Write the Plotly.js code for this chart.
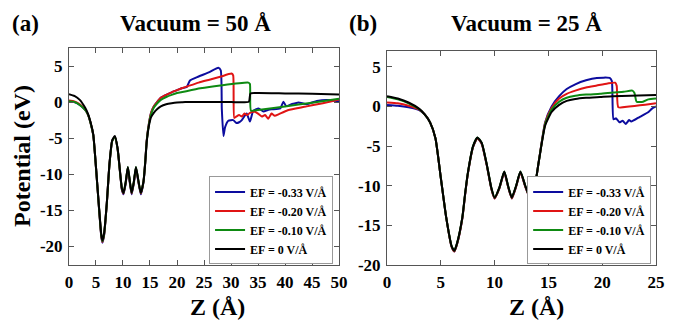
<!DOCTYPE html>
<html>
<head>
<meta charset="utf-8">
<script src="https://cdn.plot.ly/plotly-3.0.1.min.js"></script>
<style>html,body{margin:0;padding:0;background:#fff;}#chart{width:679px;height:324px;}</style>
</head>
<body>
<div id="chart"></div>
<script>
// ---------- Panel (a): Vacuum = 50 Å ----------
var xA_well = [0,1,2,3,3.5,4,4.5,5,5.5,6,6.2,6.5,7,7.5,8,8.5,9,9.5,9.8,10.1,10.5,10.9,11.25,11.6,12,12.4,12.85,13.3,13.8,14.1,14.4,14.8,15.2,15.7,16.3,17,18,19,20,21];

var xA_blue_tail = [21.8,22.4,24,26,27.65,28.1,28.3,28.6,28.9,29.5,30.4,31,31.5,32,32.9,33.5,34.1,35.1,36,36.8,37.5,39.1,39.7,40.2,41.2,42.5,44,45.9,47.7,50];
var yA_blue = [0.1,0,-0.4,-1.1,-1.7,-2.9,-4.6,-9.1,-14.1,-18.8,-19.5,-18.5,-14.1,-8.6,-5.4,-4.8,-6.5,-10.1,-12.2,-12.8,-11.3,-9.2,-11.1,-12.8,-11.3,-9.2,-11.1,-12.8,-11.1,-8.5,-5.3,-3.0,-1.5,-0.6,0.0,0.6,1.0,1.35,1.65,1.95,
  2.1,3.0,3.55,4.15,4.75,4.4,-1,-4.7,-3.5,-2.6,-2.5,-2.9,-2.8,-2.5,-1.6,-2.7,-1.25,-0.9,-1.3,-1.1,-1.0,-0.9,0.05,-0.55,-0.3,-0.05,-0.3,0.15,0.3,0.1];

var xA_red_tail = [22,24,26,28,30.1,30.4,30.6,31,31.5,32,32.5,33,33.5,34.4,35,35.7,36.3,36.9,37.5,38.1,38.8,40.3,42,44,46,48,50];
var yA_red = [0.2,0.1,-0.3,-1.05,-1.7,-2.9,-4.6,-9.1,-14.1,-18.7,-19.4,-18.4,-14.1,-8.6,-5.4,-4.8,-6.5,-10.1,-12.1,-12.7,-11.2,-9.1,-11.0,-12.7,-11.2,-9.1,-11.0,-12.7,-11.0,-8.5,-5.3,-3.0,-1.5,-0.6,0.0,0.6,1.0,1.35,1.65,1.95,
  2.2,2.7,3.1,3.5,3.95,3.7,-2.2,-2.0,-1.8,-2.0,-1.6,-1.8,-1.5,-1.35,-1.6,-2.0,-1.8,-2.3,-1.6,-1.9,-1.7,-1.2,-0.9,-0.6,-0.3,0.0,0.35];

var xA_green_tail = [24.3,28,33.2,33.5,33.7,35,40,45,50];
var yA_green = [0.1,0,-0.4,-1.1,-1.7,-2.9,-4.6,-9.1,-14.1,-18.6,-19.3,-18.3,-14.1,-8.6,-5.4,-4.8,-6.5,-10.1,-12,-12.6,-11.1,-9.0,-10.9,-12.6,-11.1,-9.0,-10.9,-12.6,-11.0,-8.5,-5.4,-3.1,-1.7,-0.8,-0.2,0.3,0.7,1.0,1.25,1.4,
  1.9,2.3,2.7,2.5,-1.2,-1.1,-0.6,-0.1,0.45];

var xA_black_tail = [22,25,30,33.3,33.6,35,40,45,50];
var yA_black = [1.1,0.85,0.3,-0.8,-1.6,-2.8,-4.5,-9,-14,-18.5,-19.2,-18.2,-14,-8.5,-5.3,-4.7,-6.4,-10,-12,-12.6,-11.1,-9.0,-10.9,-12.6,-11.1,-9.0,-10.9,-12.6,-11,-8.6,-5.5,-3.3,-2.1,-1.5,-1.0,-0.6,-0.3,-0.15,-0.05,-0.02,
  0,0,0,0.05,1.2,1.25,1.2,1.15,1.05];

// ---------- Panel (b): Vacuum = 25 Å ----------
var xB_well = [0,1,2,3,3.5,4,4.5,5,5.5,6,6.25,6.5,7,7.25,7.5,8,8.4,8.8,9.3,9.7,10,10.45,10.9,11.25,11.6,12,12.4,12.85,13.3,13.7,14.1,14.7,15.3,16,16.7,17.5,18.5];

var xB_blue_tail = [19.5,20.7,20.9,21.05,21.3,21.6,21.9,22.2,22.5,22.7,23.5,24.3,24.6,25];
var yB_blue = [0.2,0.1,-0.1,-0.45,-1.0,-2.0,-4.0,-9,-14,-17.7,-18.3,-17.4,-14.1,-11.2,-8.6,-5.1,-4.0,-4.7,-7.6,-10.4,-11.6,-10.3,-8.3,-10.1,-11.6,-10.1,-8.3,-10.1,-11.6,-10.4,-7,-2.0,0.0,1.3,2.2,2.8,3.3,
  3.6,3.6,3.2,-1.6,-1.5,-2.0,-1.8,-2.2,-1.7,-1.9,-1.3,-0.7,-0.3,0.0];

var xB_red_tail = [19.5,20.5,21.2,21.35,21.5,22.5,23.5,24.5,25];
var yB_red = [0.5,0.4,0.1,-0.4,-1.0,-2.0,-4.0,-9,-14,-17.7,-18.3,-17.4,-14.1,-11.2,-8.6,-5.1,-4.0,-4.7,-7.6,-10.4,-11.6,-10.3,-8.3,-10.1,-11.6,-10.1,-8.3,-10.1,-11.6,-10.4,-7,-2.1,-0.2,1.0,1.6,2.0,2.4,
  2.65,2.9,3.0,2.6,-0.1,0.0,0.15,0.3,0.4];

var xB_green_tail = [19.8,21,22,22.8,23.0,23.2,23.8,24.3,25];
var yB_green = [1.2,0.9,0.4,-0.35,-1.0,-2.0,-4.0,-9,-14,-17.6,-18.2,-17.3,-14,-11.1,-8.5,-5,-3.9,-4.6,-7.5,-10.3,-11.5,-10.2,-8.2,-10,-11.5,-10,-8.2,-10,-11.5,-10.3,-7,-2.2,-0.4,0.6,1.1,1.35,1.5,
  1.6,1.75,1.85,2.0,1.7,0.6,0.6,0.9,1.0];

var xB_black_tail = [19.8,21,25];
var yB_black = [1.3,1.0,0.5,-0.3,-1.0,-2.0,-4.0,-9,-14,-17.6,-18.2,-17.3,-14,-11.1,-8.5,-5,-3.9,-4.6,-7.5,-10.3,-11.5,-10.2,-8.2,-10,-11.5,-10,-8.2,-10,-11.5,-10.3,-7,-2.4,-0.7,0.2,0.7,0.95,1.1,
  1.2,1.3,1.45];

var seriesNames = ['EF = -0.33 V/Å','EF = -0.20 V/Å','EF = -0.10 V/Å','EF = 0 V/Å'];
var seriesColors = ['#0c0c9e','#e01414','#0e8a12','#000000'];
var xTicksA = [0,5,10,15,20,25,30,35,40,45,50];
var xTicksB = [0,5,10,15,20,25];
var yTicks = [5,0,-5,-10,-15,-20];
var yTickText = ['5','0','-5','-10','-15','-20'];

var FONT = 'Liberation Serif, Times New Roman, serif';

var dataA = [
  [xA_well.concat(xA_blue_tail), yA_blue],
  [xA_well.concat(xA_red_tail), yA_red],
  [xA_well.concat(xA_green_tail), yA_green],
  [xA_well.concat(xA_black_tail), yA_black]
];
var dataB = [
  [xB_well.concat(xB_blue_tail), yB_blue],
  [xB_well.concat(xB_red_tail), yB_red],
  [xB_well.concat(xB_green_tail), yB_green],
  [xB_well.concat(xB_black_tail), yB_black]
];

var traces = [];
dataA.forEach(function(d, i){
  traces.push({x:d[0], y:d[1], type:'scatter', mode:'lines', name:seriesNames[i],
    line:{color:seriesColors[i], width:2, shape:'spline', smoothing:0.5},
    xaxis:'x', yaxis:'y', legend:'legend'});
});
dataB.forEach(function(d, i){
  traces.push({x:d[0], y:d[1], type:'scatter', mode:'lines', name:seriesNames[i],
    line:{color:seriesColors[i], width:2, shape:'spline', smoothing:0.5},
    xaxis:'x2', yaxis:'y2', legend:'legend2'});
});

function tickFont(){ return {family:FONT, size:17, color:'#000', weight:'bold'}; }
function axis(extra){
  var a = {showline:true, linecolor:'#555', linewidth:1, mirror:'ticks', ticks:'inside', ticklen:5,
    tickcolor:'#555', showgrid:false, zeroline:false, tickfont:tickFont(), ticklabelstandoff:2};
  for (var k in extra) a[k] = extra[k];
  return a;
}
var legendStyle = function(xr){
  return {x:xr, xanchor:'right', y:0.184, yanchor:'bottom', bgcolor:'#fff', bordercolor:'#999', borderwidth:1,
    font:{family:FONT, size:12, color:'#000', weight:'bold'}, itemwidth:30, tracegroupgap:0};
};
function tf(size){ return {family:FONT, size:size, color:'#000', weight:'bold'}; }

var layout = {
  width:679, height:324, margin:{l:0,r:0,t:0,b:0},
  paper_bgcolor:'#fff', plot_bgcolor:'#fff', showlegend:true,
  font:{family:FONT},
  xaxis: axis({domain:[0.1016,0.4993], range:[0,50], tickvals:xTicksA, anchor:'y'}),
  yaxis: axis({domain:[0.1821,0.8519], range:[-22.6,7.5], tickvals:yTicks, ticktext:yTickText, anchor:'x'}),
  xaxis2: axis({domain:[0.5700,0.9661], range:[0,25], tickvals:xTicksB, anchor:'y2'}),
  yaxis2: axis({domain:[0.1821,0.8426], range:[-20,7.0], tickvals:yTicks, ticktext:yTickText, anchor:'x2'}),
  legend: legendStyle(0.4905),
  legend2: legendStyle(0.9590),
  annotations: [
    {text:'(a)', xref:'paper', yref:'paper', x:0.0376, y:0.929, xanchor:'center', yanchor:'middle', showarrow:false, font:tf(23)},
    {text:'Vacuum = 50 Å', xref:'paper', yref:'paper', x:0.2879, y:0.929, xanchor:'center', yanchor:'middle', showarrow:false, font:tf(23)},
    {text:'(b)', xref:'paper', yref:'paper', x:0.5339, y:0.929, xanchor:'center', yanchor:'middle', showarrow:false, font:tf(23)},
    {text:'Vacuum = 25 Å', xref:'paper', yref:'paper', x:0.7754, y:0.929, xanchor:'center', yanchor:'middle', showarrow:false, font:tf(23)},
    {text:'Potential (eV)', xref:'paper', yref:'paper', x:0.0324, y:0.5185, xanchor:'center', yanchor:'middle', textangle:-90, showarrow:false, font:tf(24)},
    {text:'Z (Å)', xref:'paper', yref:'paper', x:0.3196, y:0.0525, xanchor:'center', yanchor:'middle', showarrow:false, font:tf(24)},
    {text:'Z (Å)', xref:'paper', yref:'paper', x:0.7894, y:0.0525, xanchor:'center', yanchor:'middle', showarrow:false, font:tf(24)}
  ]
};

Plotly.newPlot('chart', traces, layout, {staticPlot:true, displayModeBar:false});
</script>
</body>
</html>
